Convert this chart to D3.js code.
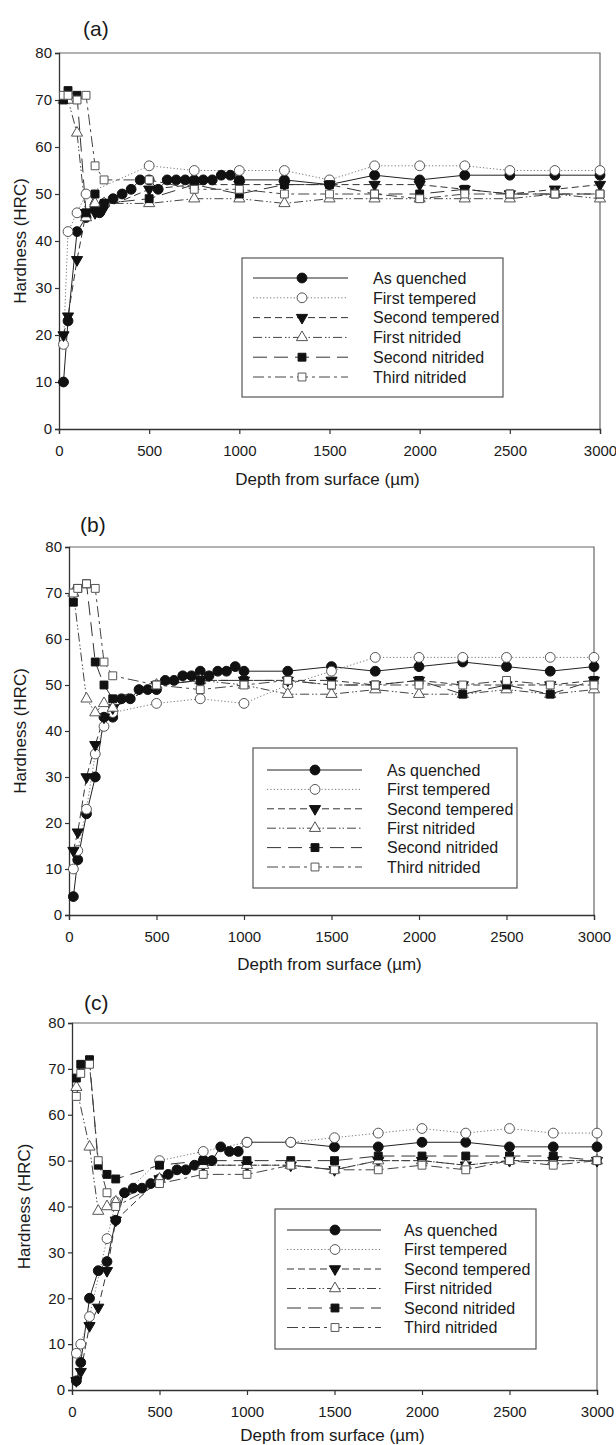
<!DOCTYPE html>
<html lang="en">
<head>
<meta charset="UTF-8">
<title>Hardness profiles</title>
<script src="https://d3js.org/d3.v7.min.js"></script>
<style>
    body { margin: 0; background: #fff; }
    svg text { font-family: "Liberation Sans", Arial, sans-serif; fill: #1a1a1a; }
</style>
</head>
<body>
<div id="chart"></div>
<script>
    // ---- data (depth in um, hardness in HRC) ----
    var seriesNames = ["As quenched", "First tempered", "Second tempered", "First nitrided", "Second nitrided", "Third nitrided"];
    var xTicks = [0, 500, 1000, 1500, 2000, 2500, 3000];
    var yTicks = [0, 10, 20, 30, 40, 50, 60, 70, 80];
    var panelLabels = ["(a)", "(b)", "(c)"];

    // panel (a)
    var aQuenched = [[25,10],[50,23],[100,42],[150,45],[200,47],[225,46],[250,48],[300,49],[350,50],[400,51],[450,53],[500,53],[550,51],[600,53],[650,53],[700,53],[750,53],[800,53],[850,53],[900,54],[950,54],[1000,53],[1250,53],[1500,52],[1750,54],[2000,53],[2250,54],[2500,54],[2750,54],[3000,54]];
    var aTemp1 = [[25,18],[50,42],[100,46],[150,50],[500,56],[750,55],[1000,55],[1250,55],[1500,53],[1750,56],[2000,56],[2250,56],[2500,55],[2750,55],[3000,55]];
    var aTemp2 = [[25,20],[50,24],[100,36],[150,46],[200,46],[250,47],[500,51],[750,52],[1000,52],[1250,52],[1500,52],[1750,52],[2000,52],[2250,51],[2500,50],[2750,51],[3000,52]];
    var aNit1 = [[25,70],[50,70],[100,63],[150,45],[200,48],[250,48],[500,48],[750,49],[1000,49],[1250,48],[1500,49],[1750,49],[2000,49],[2250,49],[2500,49],[2750,50],[3000,49]];
    var aNit2 = [[25,70],[50,72],[100,71],[150,46],[200,50],[250,48],[500,49],[750,52],[1000,50],[1250,52],[1500,52],[1750,50],[2000,50],[2250,51],[2500,50],[2750,50],[3000,50]];
    var aNit3 = [[25,71],[50,71],[100,70],[150,71],[200,56],[250,53],[500,53],[750,51],[1000,51],[1250,50],[1500,50],[1750,50],[2000,49],[2250,50],[2500,50],[2750,50],[3000,50]];

    // panel (b)
    var bQuenched = [[25,4],[50,12],[100,22],[150,30],[200,43],[250,43],[300,47],[350,47],[400,49],[450,49],[500,49],[550,51],[600,51],[650,52],[700,52],[750,53],[800,52],[850,53],[900,53],[950,54],[1000,53],[1250,53],[1500,54],[1750,53],[2000,54],[2250,55],[2500,54],[2750,53],[3000,54]];
    var bTemp1 = [[25,10],[50,14],[100,23],[150,35],[200,41],[250,44],[500,46],[750,47],[1000,46],[1250,50],[1500,53],[1750,56],[2000,56],[2250,56],[2500,56],[2750,56],[3000,56]];
    var bTemp2 = [[25,14],[50,18],[100,30],[150,37],[200,43],[250,45],[500,50],[750,51],[1000,51],[1250,51],[1500,51],[1750,50],[2000,51],[2250,50],[2500,50],[2750,50],[3000,51]];
    var bNit1 = [[25,70],[100,47],[150,44],[200,46],[250,45],[500,50],[750,51],[1000,50],[1250,48],[1500,48],[1750,49],[2000,48],[2250,48],[2500,49],[2750,48],[3000,49]];
    var bNit2 = [[25,68],[50,71],[100,72],[150,55],[200,50],[250,47],[500,50],[750,51],[1000,51],[1250,51],[1500,50],[1750,50],[2000,51],[2250,48],[2500,50],[2750,48],[3000,51]];
    var bNit3 = [[25,70],[50,71],[100,72],[150,71],[200,55],[250,52],[500,50],[750,49],[1000,50],[1250,51],[1500,50],[1750,50],[2000,50],[2250,50],[2500,51],[2750,50],[3000,50]];

    // panel (c)
    var cQuenched = [[25,2],[50,6],[100,20],[150,26],[200,28],[250,37],[300,43],[350,44],[400,44],[450,45],[500,46],[550,47],[600,48],[650,48],[700,49],[750,50],[800,50],[850,53],[900,52],[950,52],[1000,54],[1250,54],[1500,53],[1750,53],[2000,54],[2250,54],[2500,53],[2750,53],[3000,53]];
    var cTemp1 = [[25,8],[50,10],[100,16],[200,33],[250,41],[500,50],[750,52],[1000,54],[1250,54],[1500,55],[1750,56],[2000,57],[2250,56],[2500,57],[2750,56],[3000,56]];
    var cTemp2 = [[25,2],[50,4],[100,14],[150,18],[200,26],[250,37],[500,46],[750,49],[1000,49],[1250,49],[1500,48],[1750,50],[2000,50],[2250,49],[2500,50],[2750,50],[3000,50]];
    var cNit1 = [[25,66],[100,53],[150,39],[200,40],[250,41],[500,46],[750,49],[1000,49],[1250,49],[1500,48],[1750,50],[2000,50],[2250,49],[2500,50],[2750,50],[3000,50]];
    var cNit2 = [[25,68],[50,71],[100,72],[150,49],[200,47],[250,46],[500,49],[750,50],[1000,50],[1250,50],[1500,50],[1750,51],[2000,51],[2250,51],[2500,51],[2750,51],[3000,50]];
    var cNit3 = [[25,64],[50,69],[100,71],[150,50],[200,43],[250,40],[500,45],[750,47],[1000,47],[1250,49],[1500,48],[1750,48],[2000,49],[2250,48],[2500,50],[2750,49],[3000,50]];

    var panelData = [
        [aQuenched, aTemp1, aTemp2, aNit1, aNit2, aNit3],
        [bQuenched, bTemp1, bTemp2, bNit1, bNit2, bNit3],
        [cQuenched, cTemp1, cTemp2, cNit1, cNit2, cNit3]
    ];

    // ---- styles ----
    var styles = [
        {dash: null,              stroke: "#222", symbol: d3.symbolCircle,   rot: 0,   fill: "#111"},
        {dash: "1.2,2.2",         stroke: "#777", symbol: d3.symbolCircle,   rot: 0,   fill: "#fff"},
        {dash: "7,4",             stroke: "#333", symbol: d3.symbolTriangle, rot: 180, fill: "#111"},
        {dash: "9,3,1.5,2,1.5,3", stroke: "#444", symbol: d3.symbolTriangle, rot: 0,   fill: "#fff"},
        {dash: "14,7",            stroke: "#333", symbol: d3.symbolSquare,   rot: 0,   fill: "#111"},
        {dash: "11,4,3,4",        stroke: "#444", symbol: d3.symbolSquare,   rot: 0,   fill: "#fff"}
    ];
    var symSize = [76, 76, 54, 54, 62, 62];

    // ---- layout ----
    var panels = [
        {x0: 59, x1: 600, y0: 429, y1: 53,  tx: 83, ty: 36,   lab: 56, yl: 20,
         leg: {x: 242, y: 258, w: 261, h: 139, s0: 253, s1: 348, m: 302, t: 373, r0: 278, step: 19.8}},
        {x0: 69, x1: 594, y0: 915, y1: 547, tx: 80, ty: 532,  lab: 55, yl: 20,
         leg: {x: 253, y: 748, w: 264, h: 140, s0: 267, s1: 362, m: 315, t: 387, r0: 770, step: 19.4}},
        {x0: 72, x1: 597, y0: 1390, y1: 1023, tx: 84, ty: 1010, lab: 51, yl: 24,
         leg: {x: 275, y: 1209, w: 261, h: 140, s0: 287, s1: 381, m: 335, t: 404, r0: 1230, step: 19.5}}
    ];

    var W = 616, H = 1445;
    var svg = d3.select("#chart").append("svg")
        .attr("width", W)
        .attr("height", H)
        .style("display", "block");

    panels.forEach(function (p, pi) {
        var x = d3.scaleLinear().domain([0, 3000]).range([p.x0, p.x1]);
        var y = d3.scaleLinear().domain([0, 80]).range([p.y0, p.y1]);
        var g = svg.append("g");

        // frame (top + right)
        g.append("path")
            .attr("d", "M" + p.x0 + "," + p.y1 + "H" + p.x1 + "V" + p.y0)
            .attr("fill", "none")
            .attr("stroke", "#666")
            .attr("stroke-width", 1.2);

        // axes
        var xAxis = g.append("g")
            .attr("transform", "translate(0," + p.y0 + ")")
            .call(d3.axisBottom(x).tickValues(xTicks).tickSize(5).tickPadding(11).tickFormat(d3.format("d")));
        var yAxis = g.append("g")
            .attr("transform", "translate(" + p.x0 + ",0)")
            .call(d3.axisLeft(y).tickValues(yTicks).tickSize(4).tickPadding(3));
        [xAxis, yAxis].forEach(function (a) {
            a.select(".domain").attr("stroke", "#333").attr("stroke-width", 1.3);
            a.selectAll(".tick line").attr("stroke", "#333").attr("stroke-width", 1.2);
            a.selectAll(".tick text").style("font-size", "15px").style("fill", "#1a1a1a")
                .style("font-family", "'Liberation Sans', Arial, sans-serif");
        });

        // titles
        g.append("text")
            .attr("x", p.tx).attr("y", p.ty)
            .style("font-size", "21px")
            .text(panelLabels[pi]);
        g.append("text")
            .attr("x", (p.x0 + p.x1) / 2 - 2).attr("y", p.y0 + p.lab)
            .attr("text-anchor", "middle")
            .style("font-size", "17px")
            .text("Depth from surface (\u00b5m)");
        g.append("text")
            .attr("transform", "translate(" + (p.yl + 6) + "," + ((p.y0 + p.y1) / 2) + ") rotate(-90)")
            .attr("text-anchor", "middle")
            .style("font-size", "17px")
            .text("Hardness (HRC)");

        var line = d3.line()
            .x(function (d) { return x(d[0]); })
            .y(function (d) { return y(d[1]); });

        panelData[pi].forEach(function (data, si) {
            var st = styles[si];
            g.append("path")
                .datum(data)
                .attr("d", line)
                .attr("fill", "none")
                .attr("stroke", st.stroke)
                .attr("stroke-width", 1)
                .attr("stroke-dasharray", st.dash);
        });
        panelData[pi].forEach(function (data, si) {
            var st = styles[si];
            g.selectAll(null)
                .data(data)
                .enter()
                .append("path")
                .attr("d", d3.symbol().type(st.symbol).size(symSize[si]))
                .attr("transform", function (d) {
                    return "translate(" + x(d[0]) + "," + y(d[1]) + ") rotate(" + st.rot + ")";
                })
                .attr("fill", st.fill)
                .attr("stroke", st.fill === "#fff" ? "#555" : "#111")
                .attr("stroke-width", 1);
        });

        // legend
        var L = p.leg;
        var lg = g.append("g");
        lg.append("rect")
            .attr("x", L.x).attr("y", L.y)
            .attr("width", L.w).attr("height", L.h)
            .attr("fill", "#fff")
            .attr("stroke", "#555")
            .attr("stroke-width", 1.2);
        seriesNames.forEach(function (name, si) {
            var st = styles[si];
            var ry = L.r0 + si * L.step;
            lg.append("line")
                .attr("x1", L.s0).attr("x2", L.s1)
                .attr("y1", ry).attr("y2", ry)
                .attr("stroke", st.stroke)
                .attr("stroke-width", 1)
                .attr("stroke-dasharray", st.dash);
            lg.append("path")
                .attr("d", d3.symbol().type(st.symbol).size(symSize[si]))
                .attr("transform", "translate(" + L.m + "," + ry + ") rotate(" + st.rot + ")")
                .attr("fill", st.fill)
                .attr("stroke", st.fill === "#fff" ? "#555" : "#111");
            lg.append("text")
                .attr("x", L.t).attr("y", ry)
                .attr("dy", "0.36em")
                .style("font-size", "16px")
                .text(name);
        });
    });
</script>
</body>
</html>
